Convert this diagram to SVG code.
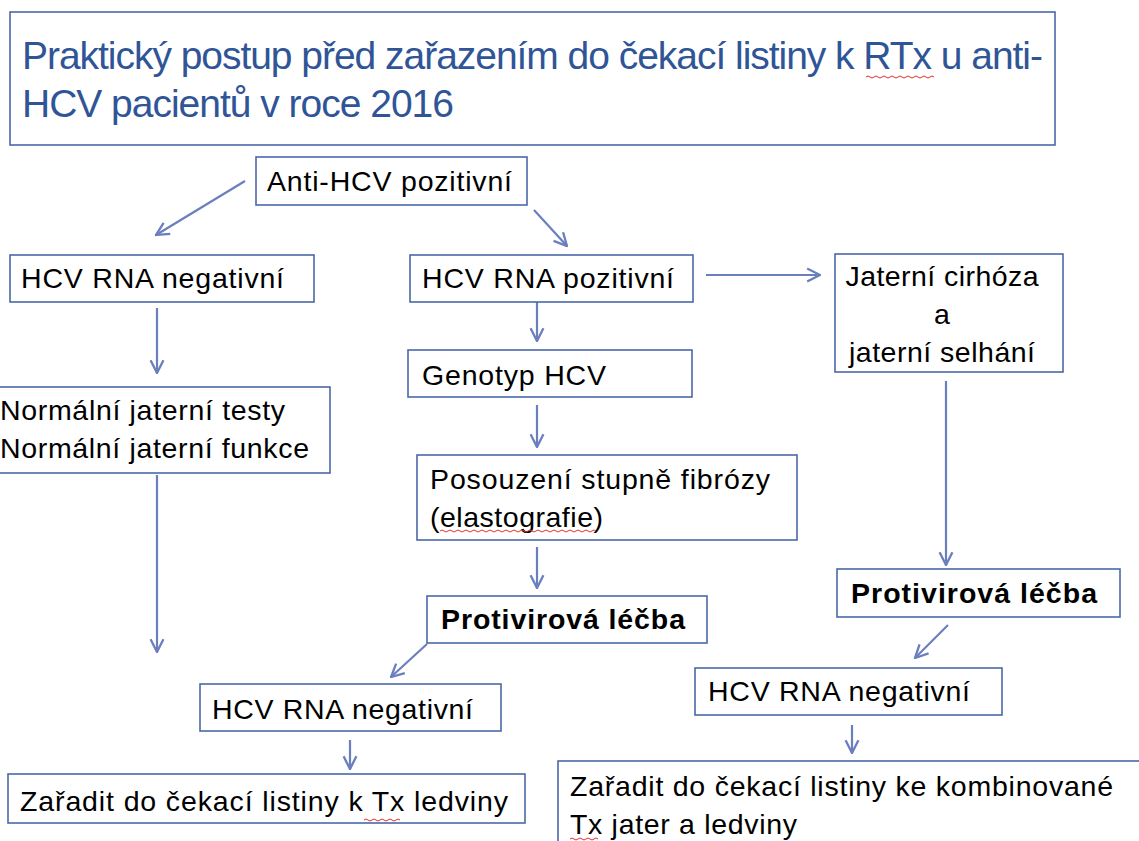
<svg xmlns="http://www.w3.org/2000/svg" width="1139" height="841" viewBox="0 0 1139 841">
<defs>
<style>
.box{fill:#fff;stroke:#4A68A8;stroke-width:1.6}
.t{font-family:"Liberation Sans",Arial,sans-serif;font-size:28.5px;fill:#000}
.b{font-weight:bold}
.title{font-family:"Liberation Sans",Arial,sans-serif;font-size:39px;fill:#2F5597}
.c{fill:none;stroke:#6A7FBE;stroke-width:2.2;marker-end:url(#ah)}
.sq{fill:none;stroke:#E03030;stroke-width:1}
</style>
<marker id="ah" viewBox="0 0 12 12" refX="11" refY="6" markerWidth="7" markerHeight="7" markerUnits="strokeWidth" orient="auto">
<path d="M1,1 L11,6 L1,11" fill="none" stroke="#6A7FBE" stroke-width="1.8"/>
</marker>
</defs>
<rect width="1139" height="841" fill="#fff"/>

<g id="title">
<rect class="box" x="10" y="12" width="1045" height="133"/>
<text class="title" x="22" y="69" textLength="1021" lengthAdjust="spacing">Praktický postup před zařazením do čekací listiny k RTx u anti-</text>
<text class="title" x="22" y="117" textLength="432" lengthAdjust="spacing">HCV pacientů v roce 2016</text>
<path class="sq" d="M866,77 q2,-2 4,0 t4,0 t4,0 t4,0 t4,0 t4,0 t4,0 t4,0 t4,0 t4,0 t4,0 t4,0 t4,0 t4,0 t4,0 t4,0 t4,0"/>
</g>

<g id="connectors">
<line class="c" x1="245" y1="181" x2="156" y2="235"/>
<line class="c" x1="534" y1="210" x2="567" y2="246"/>
<line class="c" x1="706" y1="275" x2="820" y2="275"/>
<line class="c" x1="157" y1="308" x2="157" y2="373"/>
<line class="c" x1="537" y1="298" x2="537" y2="341"/>
<line class="c" x1="537" y1="405" x2="537" y2="447"/>
<line class="c" x1="537" y1="547" x2="537" y2="588"/>
<line class="c" x1="157" y1="475" x2="157" y2="652"/>
<line class="c" x1="946" y1="381" x2="946" y2="565"/>
<line class="c" x1="427" y1="644" x2="391" y2="677"/>
<line class="c" x1="948" y1="625" x2="915" y2="658"/>
<line class="c" x1="350" y1="740" x2="350" y2="769"/>
<line class="c" x1="852" y1="725" x2="852" y2="753"/>
</g>

<g id="anti-hcv">
<rect class="box" x="256" y="157" width="271" height="48"/>
<text class="t" x="267" y="191" textLength="245" lengthAdjust="spacing">Anti-HCV  pozitivní</text>
</g>
<g id="rna-neg-left">
<rect class="box" x="10" y="255" width="304" height="47"/>
<text class="t" x="21" y="288" textLength="263" lengthAdjust="spacing">HCV RNA negativní</text>
</g>
<g id="rna-pos">
<rect class="box" x="410" y="255" width="283" height="47"/>
<text class="t" x="422" y="288" textLength="252" lengthAdjust="spacing">HCV RNA pozitivní</text>
</g>
<g id="cirhoza">
<rect class="box" x="835" y="254" width="228" height="118"/>
<text class="t" x="942" y="286" text-anchor="middle" textLength="193" lengthAdjust="spacing">Jaterní cirhóza</text>
<text class="t" x="942" y="324" text-anchor="middle">a</text>
<text class="t" x="942" y="362" text-anchor="middle" textLength="186" lengthAdjust="spacing">jaterní selhání</text>
</g>
<g id="genotyp">
<rect class="box" x="408" y="350" width="284" height="47"/>
<text class="t" x="422" y="385" textLength="184" lengthAdjust="spacing">Genotyp HCV</text>
</g>
<g id="normalni">
<rect class="box" x="-5" y="387" width="335" height="86"/>
<text class="t" x="0" y="420" textLength="285" lengthAdjust="spacing">Normální jaterní testy</text>
<text class="t" x="0" y="458" textLength="309" lengthAdjust="spacing">Normální jaterní funkce</text>
</g>
<g id="posouzeni">
<rect class="box" x="417" y="455" width="380" height="85"/>
<text class="t" x="430" y="489" textLength="340" lengthAdjust="spacing">Posouzení stupně fibrózy</text>
<text class="t" x="430" y="527" textLength="173" lengthAdjust="spacing">(elastografie)</text>
<path class="sq" d="M440,531 q2,-2 4,0 t4,0 t4,0 t4,0 t4,0 t4,0 t4,0 t4,0 t4,0 t4,0 t4,0 t4,0 t4,0 t4,0 t4,0 t4,0 t4,0 t4,0 t4,0 t4,0 t4,0 t4,0 t4,0 t4,0 t4,0 t4,0 t4,0 t4,0 t4,0 t4,0 t4,0 t4,0 t4,0 t4,0 t4,0 t4,0 t4,0 t4,0 t4,0"/>
</g>
<g id="protivirova-mid">
<rect class="box" x="427" y="596" width="280" height="47"/>
<text class="t b" x="441" y="629" textLength="244" lengthAdjust="spacing">Protivirová léčba</text>
</g>
<g id="protivirova-right">
<rect class="box" x="837" y="569" width="283" height="48"/>
<text class="t b" x="851" y="603" textLength="246" lengthAdjust="spacing">Protivirová léčba</text>
</g>
<g id="rna-neg-mid">
<rect class="box" x="200" y="684" width="301" height="47"/>
<text class="t" x="212" y="719" textLength="261" lengthAdjust="spacing">HCV RNA negativní</text>
</g>
<g id="rna-neg-right">
<rect class="box" x="695" y="668" width="307" height="47"/>
<text class="t" x="708" y="701" textLength="262" lengthAdjust="spacing">HCV RNA negativní</text>
</g>
<g id="zaradit-left">
<rect class="box" x="8" y="774" width="517" height="49"/>
<text class="t" x="20" y="811" textLength="488" lengthAdjust="spacing">Zařadit do čekací listiny k Tx ledviny</text>
<path class="sq" d="M364,820 q2,-2 4,0 t4,0 t4,0 t4,0 t4,0 t4,0 t4,0 t4,0 t4,0"/>
</g>
<g id="zaradit-right">
<rect class="box" x="558" y="761" width="600" height="100"/>
<text class="t" x="570" y="796" textLength="543" lengthAdjust="spacing">Zařadit do čekací listiny ke kombinované</text>
<text class="t" x="570" y="834" textLength="227" lengthAdjust="spacing">Tx jater a ledviny</text>
<path class="sq" d="M570,839 q2,-2 4,0 t4,0 t4,0 t4,0 t4,0 t4,0 t4,0"/>
</g>
</svg>
